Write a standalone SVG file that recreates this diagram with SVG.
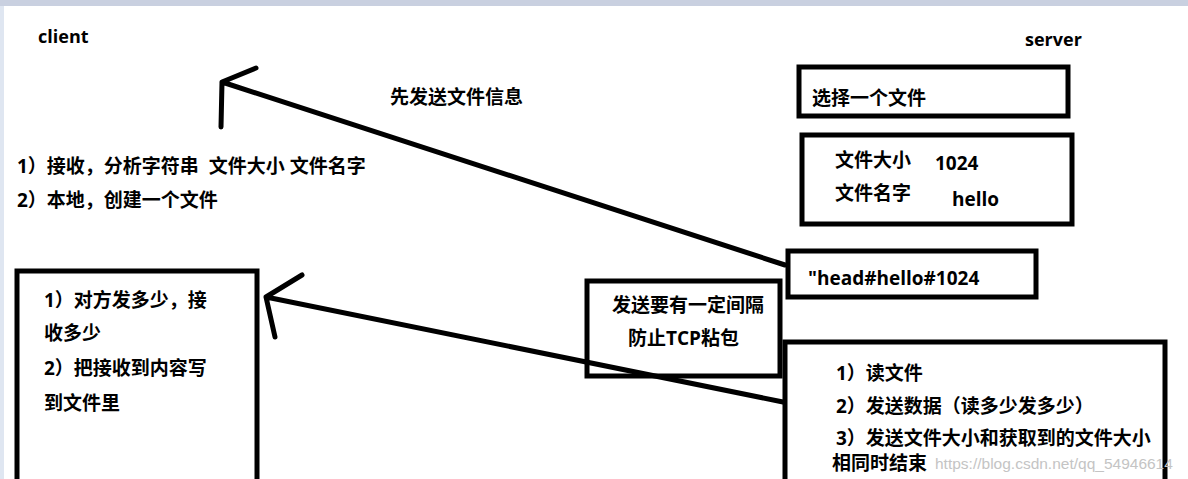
<svg xmlns="http://www.w3.org/2000/svg" width="1188" height="479" viewBox="0 0 1188 479">
<style>
  .t { font-family: "Open Sans", "Noto Sans CJK SC", sans-serif; font-weight: bold; font-size: 19px; fill: #000; }
  .lbl { font-size: 18px; }
  .box { fill: none; stroke: #000; stroke-width: 5; }
  .ln { fill: none; stroke: #000; stroke-width: 5; stroke-linecap: round; stroke-linejoin: round; }
  .wm { font-family: "Liberation Sans", sans-serif; font-size: 15.5px; fill: #c4c4c4; }
</style>
<rect x="0" y="0" width="1188" height="479" fill="#ffffff"/>
<rect x="0" y="0" width="1188" height="6" fill="#c9d0e0"/>
<rect x="0" y="6" width="4" height="473" fill="#dfe6f1"/>

<g id="client-label"><text class="t lbl" x="38" y="43">client</text></g>
<g id="server-label"><text class="t lbl" x="1025" y="46">server</text></g>
<g id="send-info-label"><text class="t" x="390" y="104">先发送文件信息</text></g>
<g id="client-steps">
  <text class="t" x="17" y="173" xml:space="preserve">1）接收，分析字符串  文件大小 文件名字</text>
  <text class="t" x="17" y="207">2）本地，创建一个文件</text>
</g>

<g id="select-file">
  <rect class="box" x="799" y="67" width="269" height="49"/>
  <text class="t" x="812" y="105">选择一个文件</text>
</g>
<g id="file-info">
  <rect class="box" x="802" y="135" width="270" height="89"/>
  <text class="t" x="835" y="167">文件大小</text>
  <text class="t" x="935" y="170">1024</text>
  <text class="t" x="835" y="200">文件名字</text>
  <text class="t" x="952" y="206">hello</text>
</g>
<g id="head-string">
  <rect class="box" x="788" y="251" width="248" height="46"/>
  <text class="t" x="808" y="285">"head#hello#1024</text>
</g>
<g id="tcp-note">
  <rect class="box" x="587" y="281" width="193" height="95"/>
  <text class="t" x="612" y="312">发送要有一定间隔</text>
  <text class="t" x="628" y="345">防止TCP粘包</text>
</g>
<g id="server-steps">
  <rect class="box" x="785" y="342" width="380" height="160"/>
  <text class="t" x="836" y="380">1）读文件</text>
  <text class="t" x="836" y="413">2）发送数据（读多少发多少）</text>
  <text class="t" x="836" y="445">3）发送文件大小和获取到的文件大小</text>
  <text class="t" x="832" y="470">相同时结束</text>
</g>
<g id="client-receive">
  <rect class="box" x="17" y="271" width="240" height="230"/>
  <text class="t" x="44" y="307">1）对方发多少，接</text>
  <text class="t" x="44" y="340">收多少</text>
  <text class="t" x="44" y="375">2）把接收到内容写</text>
  <text class="t" x="44" y="410">到文件里</text>
</g>

<g id="connectors">
  <path class="ln" d="M785,265 L222,82 M256,68 L222,82 L221,127"/>
  <path class="ln" d="M783,402 L266,297 M302,275 L266,297 L275,337"/>
</g>

<text class="wm" x="935" y="469">https://blog.csdn.net/qq_54946614</text>
</svg>
